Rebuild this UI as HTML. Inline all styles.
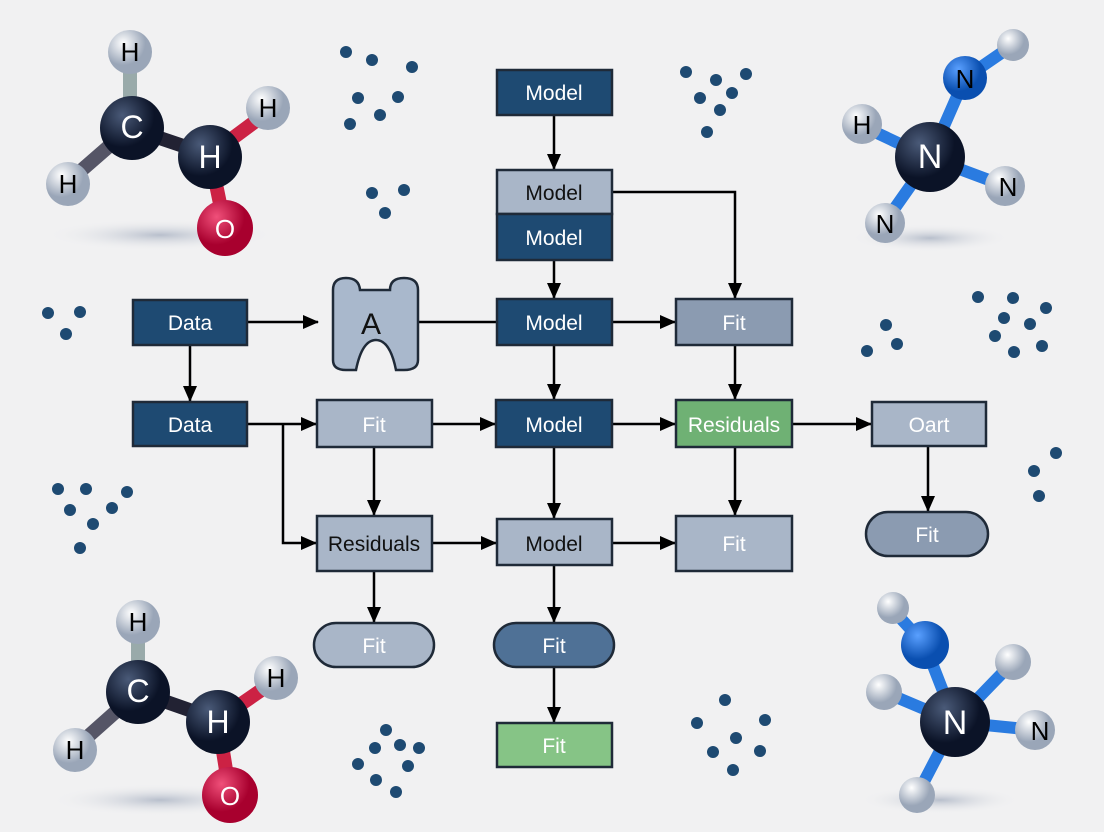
<!DOCTYPE html>
<html><head><meta charset="utf-8"><style>
body{margin:0;background:#f1f1f2;}
svg{display:block;font-family:"Liberation Sans",sans-serif;}
</style></head><body>
<svg width="1104" height="832" viewBox="0 0 1104 832">
<defs>
<marker id="a" markerWidth="16" markerHeight="16" refX="15" refY="8" orient="auto" markerUnits="userSpaceOnUse"><path d="M0,1 L16,8 L0,15z" fill="#000"/></marker>
<radialGradient id="dk" cx="35%" cy="30%"><stop offset="0" stop-color="#4a5a78"/><stop offset="1" stop-color="#0b1327"/></radialGradient>
<radialGradient id="wh" cx="35%" cy="30%"><stop offset="0" stop-color="#fff"/><stop offset="1" stop-color="#9aa6b8"/></radialGradient>
<radialGradient id="rd" cx="35%" cy="30%"><stop offset="0" stop-color="#f0507a"/><stop offset="1" stop-color="#a8002e"/></radialGradient>
<radialGradient id="bl" cx="35%" cy="30%"><stop offset="0" stop-color="#5aa0ff"/><stop offset="1" stop-color="#0a4fb0"/></radialGradient>
<radialGradient id="sh"><stop offset="0" stop-color="#b8bfcc"/><stop offset="1" stop-color="#f1f1f2" stop-opacity="0"/></radialGradient>
</defs>
<g fill="#1e4a72">
<circle cx="346" cy="52" r="6"/><circle cx="372" cy="60" r="6"/><circle cx="412" cy="67" r="6"/><circle cx="358" cy="98" r="6"/><circle cx="398" cy="97" r="6"/><circle cx="380" cy="115" r="6"/><circle cx="350" cy="124" r="6"/>
<circle cx="372" cy="193" r="6"/><circle cx="404" cy="190" r="6"/><circle cx="385" cy="213" r="6"/>
<circle cx="686" cy="72" r="6"/><circle cx="716" cy="80" r="6"/><circle cx="746" cy="74" r="6"/><circle cx="700" cy="98" r="6"/><circle cx="732" cy="93" r="6"/><circle cx="720" cy="110" r="6"/><circle cx="707" cy="132" r="6"/>
<circle cx="48" cy="313" r="6"/><circle cx="80" cy="312" r="6"/><circle cx="66" cy="334" r="6"/>
<circle cx="978" cy="297" r="6"/><circle cx="1013" cy="298" r="6"/><circle cx="1046" cy="308" r="6"/><circle cx="1004" cy="318" r="6"/><circle cx="1030" cy="324" r="6"/><circle cx="995" cy="336" r="6"/><circle cx="1014" cy="352" r="6"/><circle cx="1042" cy="346" r="6"/>
<circle cx="886" cy="325" r="6"/><circle cx="867" cy="351" r="6"/><circle cx="897" cy="344" r="6"/>
<circle cx="58" cy="489" r="6"/><circle cx="86" cy="489" r="6"/><circle cx="127" cy="492" r="6"/><circle cx="70" cy="510" r="6"/><circle cx="112" cy="508" r="6"/><circle cx="93" cy="524" r="6"/><circle cx="80" cy="548" r="6"/>
<circle cx="1056" cy="453" r="6"/><circle cx="1034" cy="471" r="6"/><circle cx="1039" cy="496" r="6"/>
<circle cx="725" cy="700" r="6"/><circle cx="697" cy="723" r="6"/><circle cx="736" cy="738" r="6"/><circle cx="765" cy="720" r="6"/><circle cx="713" cy="752" r="6"/><circle cx="760" cy="751" r="6"/><circle cx="733" cy="770" r="6"/>
<circle cx="386" cy="730" r="6"/><circle cx="375" cy="748" r="6"/><circle cx="400" cy="745" r="6"/><circle cx="419" cy="748" r="6"/><circle cx="358" cy="764" r="6"/><circle cx="408" cy="766" r="6"/><circle cx="376" cy="780" r="6"/><circle cx="396" cy="792" r="6"/>
</g>
<ellipse cx="160" cy="235" rx="115" ry="16" fill="url(#sh)"/>
<g stroke-width="14" stroke-linecap="round"><line x1="130" y1="55" x2="130" y2="128" stroke="#9aa"/><line x1="130" y1="128" x2="68" y2="182" stroke="#556"/><line x1="130" y1="128" x2="210" y2="155" stroke="#223"/><line x1="210" y1="155" x2="268" y2="112" stroke="#c24"/><line x1="210" y1="155" x2="225" y2="228" stroke="#c24"/></g>
<circle cx="130" cy="52" r="22" fill="url(#wh)"/><circle cx="268" cy="108" r="22" fill="url(#wh)"/><circle cx="68" cy="184" r="22" fill="url(#wh)"/>
<circle cx="132" cy="128" r="32" fill="url(#dk)"/><circle cx="210" cy="157" r="32" fill="url(#dk)"/><circle cx="225" cy="228" r="28" fill="url(#rd)"/>
<g font-size="26" text-anchor="middle"><text x="130" y="61">H</text><text x="268" y="117">H</text><text x="68" y="193">H</text><text x="225" y="238" fill="#fff">O</text><text x="132" y="138" fill="#fff" font-size="32">C</text><text x="210" y="168" fill="#fff" font-size="32">H</text></g>

<ellipse cx="160" cy="800" rx="110" ry="16" fill="url(#sh)"/>
<g stroke-width="14" stroke-linecap="round"><line x1="138" y1="625" x2="138" y2="692" stroke="#9aa"/><line x1="138" y1="692" x2="75" y2="748" stroke="#556"/><line x1="138" y1="692" x2="218" y2="720" stroke="#223"/><line x1="218" y1="720" x2="276" y2="680" stroke="#c24"/><line x1="218" y1="720" x2="230" y2="795" stroke="#c24"/></g>
<circle cx="138" cy="622" r="22" fill="url(#wh)"/><circle cx="276" cy="678" r="22" fill="url(#wh)"/><circle cx="75" cy="750" r="22" fill="url(#wh)"/>
<circle cx="138" cy="692" r="32" fill="url(#dk)"/><circle cx="218" cy="722" r="32" fill="url(#dk)"/><circle cx="230" cy="795" r="28" fill="url(#rd)"/>
<g font-size="26" text-anchor="middle"><text x="138" y="631">H</text><text x="276" y="687">H</text><text x="75" y="759">H</text><text x="230" y="805" fill="#fff">O</text><text x="138" y="702" fill="#fff" font-size="32">C</text><text x="218" y="733" fill="#fff" font-size="32">H</text></g>

<ellipse cx="930" cy="238" rx="80" ry="14" fill="url(#sh)"/>
<g stroke="#2a7be0" stroke-width="12" stroke-linecap="round"><line x1="930" y1="158" x2="965" y2="78"/><line x1="965" y1="78" x2="1013" y2="45"/><line x1="930" y1="158" x2="862" y2="126"/><line x1="930" y1="158" x2="1005" y2="186"/><line x1="930" y1="158" x2="885" y2="222"/></g>
<circle cx="1013" cy="45" r="16" fill="url(#wh)"/><circle cx="965" cy="78" r="22" fill="url(#bl)"/><circle cx="862" cy="124" r="20" fill="url(#wh)"/><circle cx="1005" cy="186" r="20" fill="url(#wh)"/><circle cx="885" cy="223" r="20" fill="url(#wh)"/>
<circle cx="930" cy="157" r="35" fill="url(#dk)"/>
<g font-size="26" text-anchor="middle"><text x="965" y="88">N</text><text x="862" y="134">H</text><text x="1008" y="196">N</text><text x="885" y="233">N</text><text x="930" y="168" fill="#fff" font-size="34">N</text></g>

<ellipse cx="940" cy="800" rx="80" ry="14" fill="url(#sh)"/>
<g stroke="#2a7be0" stroke-width="12" stroke-linecap="round"><line x1="955" y1="722" x2="925" y2="645"/><line x1="925" y1="645" x2="893" y2="610"/><line x1="955" y1="722" x2="884" y2="692"/><line x1="955" y1="722" x2="1013" y2="662"/><line x1="955" y1="722" x2="1035" y2="730"/><line x1="955" y1="722" x2="917" y2="795"/></g>
<circle cx="893" cy="608" r="16" fill="url(#wh)"/><circle cx="925" cy="645" r="24" fill="url(#bl)"/><circle cx="884" cy="692" r="18" fill="url(#wh)"/><circle cx="1013" cy="662" r="18" fill="url(#wh)"/><circle cx="1035" cy="730" r="20" fill="url(#wh)"/><circle cx="917" cy="795" r="18" fill="url(#wh)"/>
<circle cx="955" cy="722" r="35" fill="url(#dk)"/>
<g font-size="26" text-anchor="middle"><text x="1040" y="740">N</text><text x="955" y="734" fill="#fff" font-size="34">N</text></g>

<g stroke="#000" stroke-width="2.5" fill="none">
<line x1="554" y1="115" x2="554" y2="169" marker-end="url(#a)"/>
<polyline points="612,192 735,192 735,298" marker-end="url(#a)"/>
<line x1="554" y1="260" x2="554" y2="298" marker-end="url(#a)"/>
<line x1="247" y1="322" x2="318" y2="322" marker-end="url(#a)"/>
<line x1="412" y1="322" x2="497" y2="322"/>
<line x1="612" y1="322" x2="675" y2="322" marker-end="url(#a)"/>
<line x1="190" y1="345" x2="190" y2="401" marker-end="url(#a)"/>
<line x1="554" y1="345" x2="554" y2="399" marker-end="url(#a)"/>
<line x1="735" y1="345" x2="735" y2="399" marker-end="url(#a)"/>
<line x1="247" y1="424" x2="316" y2="424" marker-end="url(#a)"/>
<polyline points="283,424 283,543 316,543" marker-end="url(#a)"/>
<line x1="432" y1="424" x2="495" y2="424" marker-end="url(#a)"/>
<line x1="612" y1="424" x2="675" y2="424" marker-end="url(#a)"/>
<line x1="792" y1="424" x2="871" y2="424" marker-end="url(#a)"/>
<line x1="374" y1="447" x2="374" y2="515" marker-end="url(#a)"/>
<line x1="554" y1="447" x2="554" y2="518" marker-end="url(#a)"/>
<line x1="735" y1="447" x2="735" y2="515" marker-end="url(#a)"/>
<line x1="928" y1="446" x2="928" y2="511" marker-end="url(#a)"/>
<line x1="432" y1="543" x2="496" y2="543" marker-end="url(#a)"/>
<line x1="612" y1="543" x2="675" y2="543" marker-end="url(#a)"/>
<line x1="374" y1="571" x2="374" y2="622" marker-end="url(#a)"/>
<line x1="554" y1="565" x2="554" y2="622" marker-end="url(#a)"/>
<line x1="554" y1="667" x2="554" y2="722" marker-end="url(#a)"/>
</g>
<path d="M333,290 Q333,278 346,278 Q359,278 360,290 L390,290 Q390,278 404,278 Q418,278 418,290 L418,360 Q418,370 404,370 L396,370 Q390,340 376,340 Q362,340 356,370 L346,370 Q333,370 333,360 Z" fill="#a9b8cc" stroke="#1f2a38" stroke-width="2.5"/>
<text x="371" y="334" font-size="30" text-anchor="middle" fill="#111">A</text>
<g stroke="#1f2a38" stroke-width="2.5">
<rect x="497" y="70" width="115" height="45" fill="#1e4a72"/>
<rect x="497" y="170" width="115" height="44" fill="#a9b6c8"/>
<rect x="497" y="214" width="115" height="46" fill="#1e4a72"/>
<rect x="133" y="300" width="114" height="45" fill="#1e4a72"/>
<rect x="497" y="299" width="115" height="46" fill="#1e4a72"/>
<rect x="676" y="299" width="116" height="46" fill="#8b9bb1"/>
<rect x="133" y="402" width="114" height="44" fill="#1e4a72"/>
<rect x="317" y="400" width="115" height="47" fill="#a9b6c8"/>
<rect x="496" y="400" width="116" height="47" fill="#1e4a72"/>
<rect x="676" y="400" width="116" height="47" fill="#6fb174"/>
<rect x="872" y="402" width="114" height="44" fill="#a9b6c8"/>
<rect x="317" y="516" width="115" height="55" fill="#a9b6c8"/>
<rect x="497" y="519" width="115" height="46" fill="#a9b6c8"/>
<rect x="676" y="516" width="116" height="55" fill="#a9b6c8"/>
<rect x="866" y="512" width="122" height="44" rx="22" fill="#8b9bb1"/>
<rect x="314" y="623" width="120" height="44" rx="22" fill="#a9b6c8"/>
<rect x="494" y="623" width="120" height="44" rx="22" fill="#4f7196"/>
<rect x="497" y="723" width="115" height="44" fill="#86c486"/>
</g>
<g font-size="21" text-anchor="middle">
<text x="554" y="100" fill="#fff">Model</text>
<text x="554" y="200" fill="#111">Model</text>
<text x="554" y="245" fill="#fff">Model</text>
<text x="190" y="330" fill="#fff">Data</text>
<text x="554" y="330" fill="#fff">Model</text>
<text x="734" y="330" fill="#fff">Fit</text>
<text x="190" y="432" fill="#fff">Data</text>
<text x="374" y="432" fill="#fff">Fit</text>
<text x="554" y="432" fill="#fff">Model</text>
<text x="734" y="432" fill="#fff">Residuals</text>
<text x="929" y="432" fill="#fff">Oart</text>
<text x="374" y="551" fill="#111">Residuals</text>
<text x="554" y="551" fill="#111">Model</text>
<text x="734" y="551" fill="#fff">Fit</text>
<text x="927" y="542" fill="#fff">Fit</text>
<text x="374" y="653" fill="#fff">Fit</text>
<text x="554" y="653" fill="#fff">Fit</text>
<text x="554" y="753" fill="#fff">Fit</text>
</g>
</svg>
</body></html>
